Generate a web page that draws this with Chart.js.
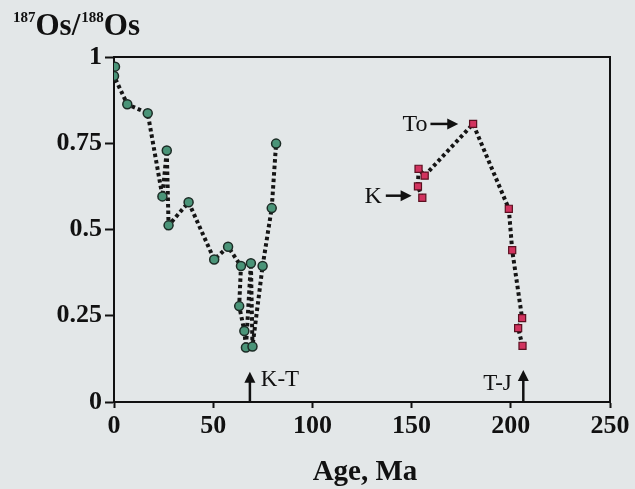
<!DOCTYPE html>
<html>
<head>
<meta charset="utf-8">
<script src="https://cdn.jsdelivr.net/npm/chart.js@4.4.1/dist/chart.umd.min.js"></script>
<style>
  html, body { margin: 0; padding: 0; background: #e3e7e8; }
  #wrap { width: 635px; height: 489px; }
</style>
</head>
<body>
<div id="wrap"><canvas id="osChart" width="635" height="489"></canvas></div>
<script>
// marine sediment record (green circles)
const marineAge   = [0.5, 0, 6.7, 17, 24.4, 26.6, 27.5, 37.6, 50.5, 57.5, 64, 63.1, 65.7, 66.5, 69, 69.8, 74.9, 79.5, 81.7];
const marineRatio = [0.972, 0.945, 0.863, 0.837, 0.596, 0.729, 0.512, 0.579, 0.413, 0.45, 0.394, 0.278, 0.206, 0.158, 0.402, 0.161, 0.394, 0.562, 0.749];

// older samples (red squares)
const olderAge   = [155.4, 153.2, 153.5, 156.6, 181, 199, 200.7, 205.7, 203.7, 205.9];
const olderRatio = [0.592, 0.625, 0.676, 0.656, 0.806, 0.56, 0.44, 0.243, 0.214, 0.163];

const xTicks = [0, 50, 100, 150, 200, 250];
const yTicks = [0, 0.25, 0.5, 0.75, 1];

const serif = "'Liberation Serif', 'DejaVu Serif', serif";

function toPoints(xs, ys) {
  return xs.map((x, i) => ({ x: x, y: ys[i] }));
}

function arrow(ctx, x1, y1, x2, y2) {
  const ang = Math.atan2(y2 - y1, x2 - x1);
  const head = 11, half = 5.5;
  ctx.beginPath();
  ctx.moveTo(x1, y1);
  ctx.lineTo(x2 - Math.cos(ang) * head * 0.8, y2 - Math.sin(ang) * head * 0.8);
  ctx.stroke();
  ctx.beginPath();
  ctx.moveTo(x2, y2);
  ctx.lineTo(x2 - Math.cos(ang) * head + Math.sin(ang) * half, y2 - Math.sin(ang) * head - Math.cos(ang) * half);
  ctx.lineTo(x2 - Math.cos(ang) * head - Math.sin(ang) * half, y2 - Math.sin(ang) * head + Math.cos(ang) * half);
  ctx.closePath();
  ctx.fill();
}

const decorations = {
  id: "decorations",
  beforeDraw(chart) {
    const ctx = chart.ctx;
    ctx.save();
    ctx.fillStyle = "#e3e7e8";
    ctx.fillRect(0, 0, chart.width, chart.height);
    ctx.restore();
  },
  afterDraw(chart) {
    const ctx = chart.ctx;
    const a = chart.chartArea;
    const xs = chart.scales.x, ys = chart.scales.y;
    ctx.save();
    ctx.strokeStyle = "#111";
    ctx.fillStyle = "#111";
    ctx.lineWidth = 2;
    // top + right frame
    ctx.beginPath();
    ctx.moveTo(a.left, a.top);
    ctx.lineTo(a.right, a.top);
    ctx.lineTo(a.right, a.bottom);
    ctx.stroke();

    // y title with superscripts
    ctx.textBaseline = "alphabetic";
    ctx.textAlign = "left";
    let x = 13;
    const base = 35;
    const parts = [["187", 15, -13], ["Os/", 31, 0], ["188", 15, -13], ["Os", 31, 0]];
    parts.forEach(p => {
      ctx.font = "bold " + p[1] + "px " + serif;
      ctx.fillText(p[0], x, base + p[2]);
      x += ctx.measureText(p[0]).width + (p[1] < 20 ? 0 : 1);
    });

    // x title
    ctx.font = "bold 29px " + serif;
    ctx.textAlign = "center";
    ctx.fillText("Age, Ma", 365, 480);

    // labelled arrows
    ctx.lineWidth = 2.5;
    ctx.font = "24px " + serif;
    ctx.textAlign = "right";
    ctx.textBaseline = "middle";
    ctx.fillText("To", xs.getPixelForValue(158), ys.getPixelForValue(0.806) + 1);
    arrow(ctx, xs.getPixelForValue(159.5), ys.getPixelForValue(0.806), xs.getPixelForValue(173.5), ys.getPixelForValue(0.806));
    ctx.fillText("K", xs.getPixelForValue(135), ys.getPixelForValue(0.598) + 1);
    arrow(ctx, xs.getPixelForValue(137), ys.getPixelForValue(0.598), xs.getPixelForValue(150), ys.getPixelForValue(0.598));

    arrow(ctx, xs.getPixelForValue(68.5), ys.getPixelForValue(0), xs.getPixelForValue(68.5), ys.getPixelForValue(0.088));
    arrow(ctx, xs.getPixelForValue(206.3), ys.getPixelForValue(0), xs.getPixelForValue(206.3), ys.getPixelForValue(0.093));
    ctx.font = "23px " + serif;
    ctx.textBaseline = "alphabetic";
    ctx.textAlign = "left";
    ctx.fillText("K-T", xs.getPixelForValue(74), ys.getPixelForValue(0.045));
    ctx.textAlign = "right";
    ctx.fillText("T-J", xs.getPixelForValue(200.5), ys.getPixelForValue(0.036));
    ctx.restore();
  }
};

const dotted = {
  showLine: true,
  borderColor: "#151515",
  borderWidth: 4,
  borderDash: [3.5, 3],
  borderCapStyle: "butt"
};

new Chart(document.getElementById("osChart"), {
  type: "scatter",
  data: {
    datasets: [
      Object.assign({
        label: "marine",
        data: toPoints(marineAge, marineRatio),
        pointStyle: "circle",
        pointRadius: 4.5,
        pointBackgroundColor: "#4a9478",
        pointBorderColor: "#1c2b25",
        pointBorderWidth: 1.5
      }, dotted),
      Object.assign({
        label: "older",
        data: toPoints(olderAge, olderRatio),
        pointStyle: "rect",
        pointRadius: 5,
        pointBackgroundColor: "#d2335f",
        pointBorderColor: "#5a1020",
        pointBorderWidth: 1.2
      }, dotted)
    ]
  },
  options: {
    responsive: false,
    devicePixelRatio: 1,
    animation: false,
    layout: { padding: { left: 0, top: 57, right: 25, bottom: 0 } },
    plugins: { legend: { display: false }, tooltip: { enabled: false } },
    scales: {
      x: {
        type: "linear",
        min: 0, max: 250,
        afterBuildTicks: s => { s.ticks = xTicks.map(v => ({ value: v })); },
        afterFit: s => { s.height = 87; },
        grid: { drawOnChartArea: false, tickLength: 6, tickColor: "#111", tickWidth: 2 },
        border: { color: "#111", width: 2 },
        ticks: { color: "#111", padding: 3, callback: v => String(v), font: { family: serif, size: 26, weight: "bold" } }
      },
      y: {
        min: 0, max: 1,
        afterBuildTicks: s => { s.ticks = yTicks.map(v => ({ value: v })); },
        afterFit: s => { s.width = 114; },
        grid: { drawOnChartArea: false, tickLength: 9, tickColor: "#111", tickWidth: 2 },
        border: { color: "#111", width: 2 },
        ticks: { color: "#111", padding: 3, callback: v => String(v), font: { family: serif, size: 26, weight: "bold" } }
      }
    }
  },
  plugins: [decorations]
});
</script>
</body>
</html>
